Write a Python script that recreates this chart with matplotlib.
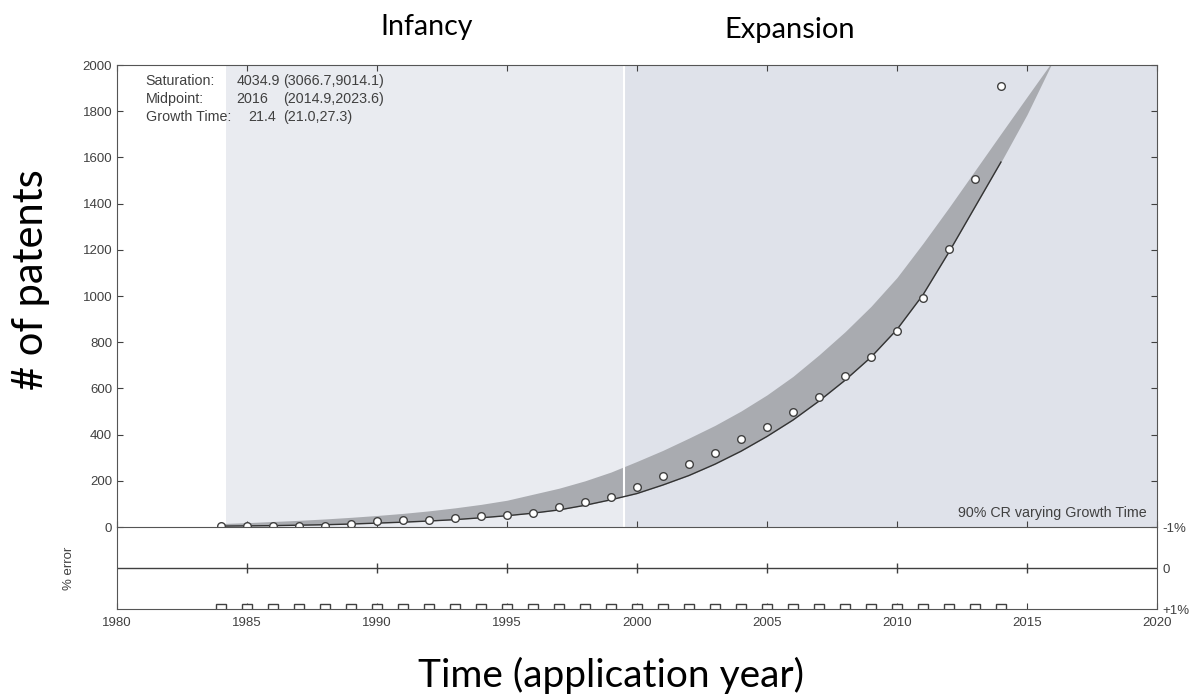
import matplotlib.pyplot as plt

# observed yearly patent counts (circles)
years = list(range(1984, 2015))
patents = [3, 6, 3, 6, 6, 11, 24, 29, 32, 39, 46, 53, 61, 87, 107, 130,
           173, 221, 273, 320, 381, 433, 498, 565, 652, 738, 850, 991,
           1203, 1506, 1909]

# fitted curve (dark line), 1984-2014
fit_years = list(range(1984, 2015))
fit_vals = [4, 5, 6, 8, 10, 13, 17, 21, 26, 32, 40, 49, 60, 74, 94, 118,
            145, 182, 223, 272, 328, 392, 463, 545, 635, 735, 855, 1005,
            1190, 1385, 1580]

# 90% CR band, 1984-2016
band_years = list(range(1984, 2017))
band_low = fit_vals + [1785, 2017]
band_high = [15, 19, 24, 29, 35, 42, 50, 59, 70, 83, 98, 116, 142, 168,
             200, 238, 284, 332, 385, 440, 502, 572, 652, 745, 845, 955,
             1080, 1228, 1383, 1543, 1703, 1862, 2020]

infancy_start = 1984.2
expansion_start = 1999.5
xticks = [1980, 1985, 1990, 1995, 2000, 2005, 2010, 2015, 2020]
yticks = list(range(0, 2001, 200))

fit_info = [("Saturation:", "4034.9", "(3066.7,9014.1)"),
            ("Midpoint:", "2016", "(2014.9,2023.6)"),
            ("Growth Time:", "21.4", "(21.0,27.3)")]

tick_font = dict(family="Liberation Sans", color="#404040", fontsize=9.5)
box_font = dict(family="Liberation Sans", color="#404040", fontsize=10.3)
big = "Lato"

fig = plt.figure(figsize=(11.91, 7), dpi=100)
ax = fig.add_axes([0.0982, 0.2471, 0.8732, 0.66])
ax2 = fig.add_axes([0.0982, 0.13, 0.8732, 0.1171])
ax2.patch.set_visible(False)

# background regions
ax.axvspan(infancy_start, expansion_start, color="#e9ebf0", lw=0)
ax.axvspan(expansion_start, 2020, color="#dfe2ea", lw=0)
ax.axvline(expansion_start, color="white", lw=1.5)

ax.fill_between(band_years, band_low, band_high, color="#a9abb0", lw=0)
ax.plot(fit_years, fit_vals, color="#333333", lw=1)
ax.plot(years, patents, "o", ms=5.5, mfc="white", mec="#404040", mew=1)

ax.set_xlim(1980, 2020)
ax.set_ylim(0, 2000)
ax.set_xticks(xticks)
ax.set_xticklabels([])
ax.set_yticks(yticks)
ax.set_yticklabels([str(v) for v in yticks], **tick_font)
ax.tick_params(direction="in", top=True, right=True, length=4, color="#404040")
for s in ax.spines.values():
    s.set_color("#555555")

col_x = [1981.1, 1984.6, 1986.4]
for i, (a, b, c) in enumerate(fit_info):
    y = 1960 - i * 78
    ax.text(col_x[0], y, a, va="top", **box_font)
    ax.text(col_x[1] + (0.45 if i == 2 else 0), y, b, va="top", **box_font)
    ax.text(col_x[2], y, c, va="top", **box_font)
ax.text(2019.6, 45, "90% CR varying Growth Time", ha="right", va="baseline", **box_font)

# error panel
ax2.set_xlim(1980, 2020)
ax2.set_ylim(1, -1)
ax2.axhline(0, color="#404040", lw=1)
ax2.plot(xticks[1:-1], [0] * (len(xticks) - 2), "|", ms=7, color="#404040")
ax2.plot(years, [1] * len(years), "s", ms=7, mfc="white", mec="#404040", mew=1)
ax2.set_xticks(xticks)
ax2.set_xticklabels([str(v) for v in xticks], **tick_font)
ax2.set_yticks([-1, 0, 1])
ax2.yaxis.tick_right()
ax2.set_yticklabels(["-1%", "0", "+1%"], **tick_font)
ax2.tick_params(axis="y", length=0, pad=4)
ax2.tick_params(axis="x", direction="in", length=4, color="#404040", pad=6)
ax2.spines["top"].set_visible(False)
for s in ax2.spines.values():
    s.set_color("#555555")
ax2.set_ylabel("% error", **tick_font)
ax2.yaxis.set_label_position("left")
ax2.yaxis.set_label_coords(-0.04, 0.5)

fig.text(0.3585, 0.961, "Infancy", family=big, fontsize=20.5, ha="center", va="center")
fig.text(0.663, 0.957, "Expansion", family=big, fontsize=21, ha="center", va="center")
fig.text(0.026, 0.6, "# of patents", family=big, fontsize=30, rotation=90,
         ha="center", va="center")
fig.text(0.513, 0.035, "Time (application year)", family=big, fontsize=28,
         ha="center", va="center")

fig.savefig("out.png", dpi=100)
